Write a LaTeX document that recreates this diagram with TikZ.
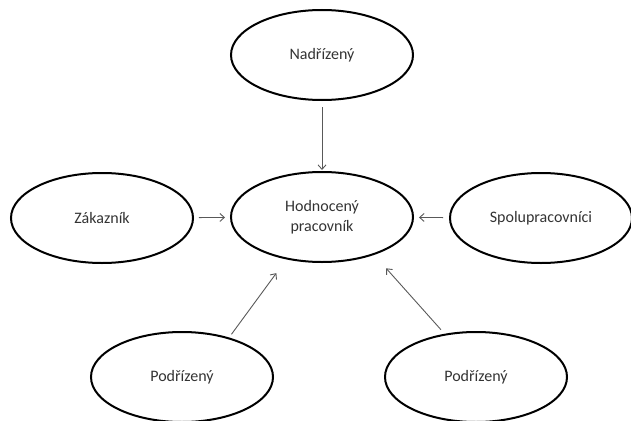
\documentclass[tikz,border=0pt]{standalone}
\usepackage{fontspec}
\setmainfont{Carlito}
\usetikzlibrary{shapes.geometric,arrows.meta}
\begin{document}
\begin{tikzpicture}[x=1pt,y=-1pt,
  oval/.style={ellipse, draw=black, line width=2pt, minimum width=182pt, minimum height=90pt,
    inner sep=0pt, align=center, text=black!80, font=\fontsize{16}{20.5}\selectfont},
  arr/.style={draw=black!65, line width=0.9pt, -{Straight Barb[length=4.5pt,width=8pt]}}]
\useasboundingbox (0,0) rectangle (631,420);
\node[oval] (n) at (322,55) {Nadřízený};
\node[oval] (h) at (322,217) {Hodnocený\\pracovník};
\node[oval] (z) at (102,218) {Zákazník};
\node[oval] (s) at (541,218) {Spolupracovníci};
\node[oval] (p1) at (182,377) {Podřízený};
\node[oval] (p2) at (476,377) {Podřízený};
\draw[arr, shorten <=6pt, shorten >=1pt] (n) -- (h);
\draw[arr, shorten <=5pt, shorten >=5pt] (z) -- (h);
\draw[arr, shorten <=6pt, shorten >=5pt] (s) -- (h);
\draw[arr, shorten <=4pt, shorten >=17pt] (p1.40) -- (h.230);
\draw[arr, shorten <=5.5pt, shorten >=18pt] (p2.126) -- (h.-36);
\end{tikzpicture}
\end{document}
